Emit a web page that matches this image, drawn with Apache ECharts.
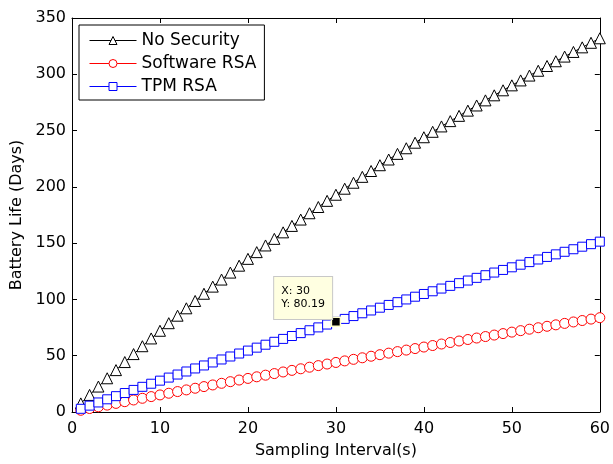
<!DOCTYPE html>
<html>
<head>
<meta charset="utf-8">
<script src="https://cdn.jsdelivr.net/npm/echarts@6/dist/echarts.min.js"></script>
<style>
html,body{margin:0;padding:0;background:#fff;}
#chart{width:613px;height:464px;}
</style>
</head>
<body>
<div id="chart"></div>
<script>
var xValues = [1,2,3,4,5,6,7,8,9,10,11,12,13,14,15,16,17,18,19,20,21,22,23,24,25,26,27,28,29,30,31,32,33,34,35,36,37,38,39,40,41,42,43,44,45,46,47,48,49,50,51,52,53,54,55,56,57,58,59,60];
var noSecurity = [7.63,15.17,22.61,29.96,37.21,44.37,51.45,58.44,65.34,72.16,78.89,85.55,92.12,98.62,105.04,111.38,117.65,123.85,129.98,136.04,142.02,147.94,153.80,159.58,165.31,170.96,176.56,182.10,187.57,192.99,198.35,203.65,208.89,214.08,219.21,224.29,229.31,234.29,239.21,244.08,248.90,253.68,258.40,263.08,267.71,272.29,276.83,281.32,285.77,290.17,294.54,298.86,303.14,307.37,311.57,315.73,319.84,323.92,327.96,331.97];
var softwareRSA = [1.54,3.08,4.61,6.13,7.65,9.17,10.68,12.18,13.68,15.17,16.66,18.15,19.63,21.10,22.57,24.03,25.49,26.94,28.39,29.83,31.27,32.71,34.13,35.56,36.98,38.39,39.80,41.21,42.61,44.00,45.39,46.78,48.16,49.54,50.91,52.28,53.64,55.00,56.35,57.70,59.05,60.39,61.73,63.06,64.39,65.71,67.03,68.35,69.66,70.96,72.26,73.56,74.86,76.15,77.43,78.71,79.99,81.26,82.53,83.80];
var tpmRSA = [2.84,5.66,8.48,11.28,14.07,16.85,19.62,22.37,25.12,27.85,30.57,33.28,35.98,38.67,41.34,44.01,46.66,49.31,51.94,54.56,57.17,59.77,62.36,64.94,67.51,70.07,72.62,75.16,77.69,80.19,82.71,85.21,87.70,90.18,92.65,95.11,97.55,99.99,102.42,104.84,107.25,109.66,112.05,114.43,116.80,119.17,121.52,123.87,126.21,128.53,130.85,133.16,135.47,137.76,140.04,142.32,144.58,146.84,149.09,151.33];
var seriesNames = ['No Security','Software RSA','TPM RSA'];
var dataTip = {x: 30, y: 80.19};
var xTicks = {min: 0, max: 60, interval: 10};
var yTicks = {min: 0, max: 350, interval: 50};

function pairs(ys){ return xValues.map(function(x,i){ return [x, ys[i]]; }); }

var font = 'DejaVu Sans';
var chart = echarts.init(document.getElementById('chart'), null, {renderer:'canvas'});

function mkX(pos, showLabel, name){
  return {
    type:'value', position:pos, min:xTicks.min, max:xTicks.max, interval:xTicks.interval,
    name: name || '', nameLocation:'middle', nameGap:31,
    nameTextStyle:{fontFamily:font,fontSize:16,color:'#000'},
    axisLine:{show:true,onZero:false,lineStyle:{color:'#000',width:1}},
    axisTick:{show:true,inside:true,length:5,lineStyle:{color:'#000'}},
    axisLabel:{show:showLabel,fontFamily:font,fontSize:16,color:'#000',margin:9},
    splitLine:{show:false}
  };
}
function mkY(pos, showLabel, name){
  return {
    type:'value', position:pos, min:yTicks.min, max:yTicks.max, interval:yTicks.interval,
    name: name || '', nameLocation:'middle', nameGap:42,
    nameTextStyle:{fontFamily:font,fontSize:16,color:'#000'},
    axisLine:{show:true,onZero:false,lineStyle:{color:'#000',width:1}},
    axisTick:{show:true,inside:true,length:5,lineStyle:{color:'#000'}},
    axisLabel:{show:showLabel,fontFamily:font,fontSize:16,color:'#000',margin:6},
    splitLine:{show:false}
  };
}

function line(name, data, color, symbol, size){
  return {
    name:name, type:'line', xAxisIndex:0, yAxisIndex:0,
    data: pairs(data), symbol:symbol, symbolSize:size, showSymbol:true,
    lineStyle:{color:color,width:1},
    itemStyle:{color:'#fff',borderColor:color,borderWidth:1},
    animation:false, z:2
  };
}

var series = [
  line(seriesNames[0], noSecurity, '#000000', 'triangle', 11),
  line(seriesNames[1], softwareRSA, '#ff0000', 'circle', 10),
  line(seriesNames[2], tpmRSA, '#0000ff', 'rect', 9)
];
series[2].markPoint = {
  symbol:'rect', symbolSize:9,
  itemStyle:{color:'#000',borderColor:'#ffffcc',borderWidth:1.5},
  label:{
    show:true, position:[-56.5,2.5], align:'left', verticalAlign:'bottom',
    formatter:'X: ' + dataTip.x + '\nY: ' + dataTip.y,
    fontFamily:font, fontSize:11, color:'#000', lineHeight:13,
    backgroundColor:'#ffffe1', borderColor:'#c8c8c8', borderWidth:1,
    padding:[8,7,8,7]
  },
  data:[{coord:[dataTip.x, dataTip.y]}],
  animation:false
};

chart.setOption({
  backgroundColor:'#fff',
  animation:false,
  grid:{left:72,right:12,top:18,bottom:48,show:false},
  legend:{
    orient:'vertical', left:79, top:25,
    data:seriesNames,
    itemWidth:47, itemHeight:10, itemGap:6,
    padding:[7,8,5,10],
    lineStyle:{width:1},
    itemStyle:{borderWidth:1},
    backgroundColor:'#fff', borderColor:'#000', borderWidth:1,
    textStyle:{fontFamily:font,fontSize:17,color:'#000'}
  },
  xAxis:[mkX('bottom', true, 'Sampling Interval(s)'), mkX('top', false)],
  yAxis:[mkY('left', true, 'Battery Life (Days)'), mkY('right', false)],
  series:series
});
</script>
</body>
</html>
